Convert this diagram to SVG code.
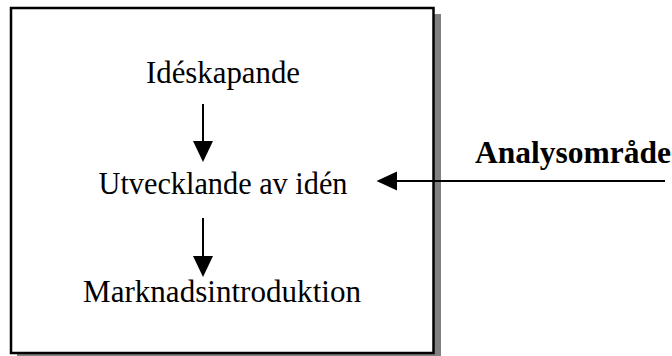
<svg xmlns="http://www.w3.org/2000/svg" width="672" height="356" viewBox="0 0 672 356">
  <defs>
    <style>
      .lbl { font-family: "Liberation Serif", "Times New Roman", serif; font-size: 31px; fill: #000; text-anchor: middle; }
      .bold { font-family: "Liberation Serif", "Times New Roman", serif; font-size: 31.5px; font-weight: bold; fill: #000; }
      .conn { stroke: #000; stroke-width: 2; fill: none; }
      .head { fill: #000; stroke: none; }
    </style>
  </defs>
  <rect width="672" height="356" fill="#fff"/>
  <g id="frame">
    <rect x="17" y="14" width="424" height="350" fill="#808080"/>
    <rect x="11" y="8" width="422.5" height="345" fill="#fff" stroke="#000" stroke-width="2.5"/>
  </g>
  <g id="node-ideskapande">
    <text class="lbl" x="223" y="83" textLength="154" lengthAdjust="spacingAndGlyphs">Idéskapande</text>
  </g>
  <g id="node-utvecklande">
    <text class="lbl" x="223" y="194" textLength="249" lengthAdjust="spacingAndGlyphs">Utvecklande av idén</text>
  </g>
  <g id="node-marknad">
    <text class="lbl" x="222" y="302" textLength="278" lengthAdjust="spacingAndGlyphs">Marknadsintroduktion</text>
  </g>
  <g id="node-analys">
    <text class="bold" x="475" y="163">Analysområde</text>
  </g>
  <g id="connectors">
    <line class="conn" x1="203" y1="104" x2="203" y2="142"/>
    <polygon class="head" points="193,141 213,141 203,162"/>
    <line class="conn" x1="203" y1="218" x2="203" y2="257"/>
    <polygon class="head" points="193,256 213,256 203,277"/>
    <line class="conn" x1="665" y1="181" x2="396" y2="181"/>
    <polygon class="head" points="397,171.5 397,190.5 376.5,181"/>
  </g>
</svg>
